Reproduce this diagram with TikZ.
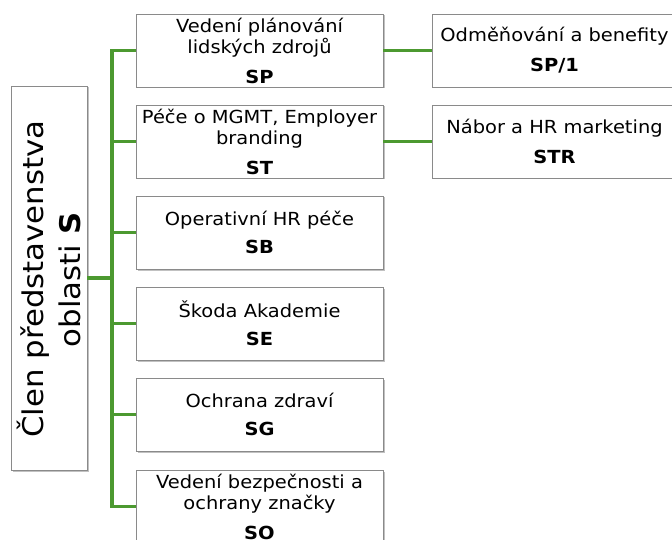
\documentclass[tikz,border=0pt]{standalone}
\usepackage{fontspec}
\setmainfont{DejaVu Sans}[FakeStretch=1.08]
\usetikzlibrary{shadows}
\definecolor{lgreen}{HTML}{4C9930}
\definecolor{bordergray}{HTML}{8A8A8A}
\begin{document}
\begin{tikzpicture}[x=1pt,y=-1pt,
  box/.style={draw=bordergray, line width=0.8pt, fill=white,
    drop shadow={shadow xshift=1.5pt, shadow yshift=-1.5pt, fill=black!40, opacity=0.6},
    align=center, inner sep=0pt, font=\fontsize{18}{21}\selectfont},
  midbox/.style={box, minimum width=247pt, minimum height=73pt},
  rightbox/.style={box, minimum width=245pt, minimum height=73pt},
  conn/.style={draw=lgreen, line width=3.5pt},
  bigtxt/.style={rotate=90, anchor=base, inner sep=0pt, font=\fontsize{28.5}{34}\selectfont}
]
\useasboundingbox (0,0) rectangle (672,540);
\clip (0,0) rectangle (672,540);
\fill[white] (0,0) rectangle (672,540);

% left box
\node[box, minimum width=76pt, minimum height=384pt] (lb) at (49,278) {};
\node[bigtxt] (lt1) at (43,279) {Člen představenstva};
\node[bigtxt] (lt2) at (80,280) {oblasti \textbf{S}};

% middle boxes
\node[midbox] (sp) at (259.5,50.5) {Vedení plánování\\lidských zdrojů\\[9pt]\textbf{SP}};
\node[midbox] (st) at (259.5,141.5) {Péče o MGMT, Employer\\branding\\[9pt]\textbf{ST}};
\node[midbox] (sb) at (259.5,232.5) {Operativní HR péče\\[7pt]\textbf{SB}};
\node[midbox] (se) at (259.5,323.5) {Škoda Akademie\\[7pt]\textbf{SE}};
\node[midbox] (sg) at (259.5,414.5) {Ochrana zdraví\\[7pt]\textbf{SG}};
\node[midbox] (so) at (259.5,506.5) {Vedení bezpečnosti a\\ochrany značky\\[9pt]\textbf{SO}};

% right boxes
\node[rightbox] (sp1) at (554.5,50.5) {Odměňování a benefity\\[9pt]\textbf{SP/1}};
\node[rightbox] (str) at (554.5,141.5) {Nábor a HR marketing\\[9pt]\textbf{STR}};

% connectors
\coordinate (j) at (112,278);
\draw[conn] (lb.east) -- (j);
\foreach \n in {sp,st,sb,se,sg,so}{
  \draw[conn] (j) |- (\n.west);
}
\draw[conn] (sp.east) -- (sp1.west);
\draw[conn] (st.east) -- (str.west);
\end{tikzpicture}
\end{document}
